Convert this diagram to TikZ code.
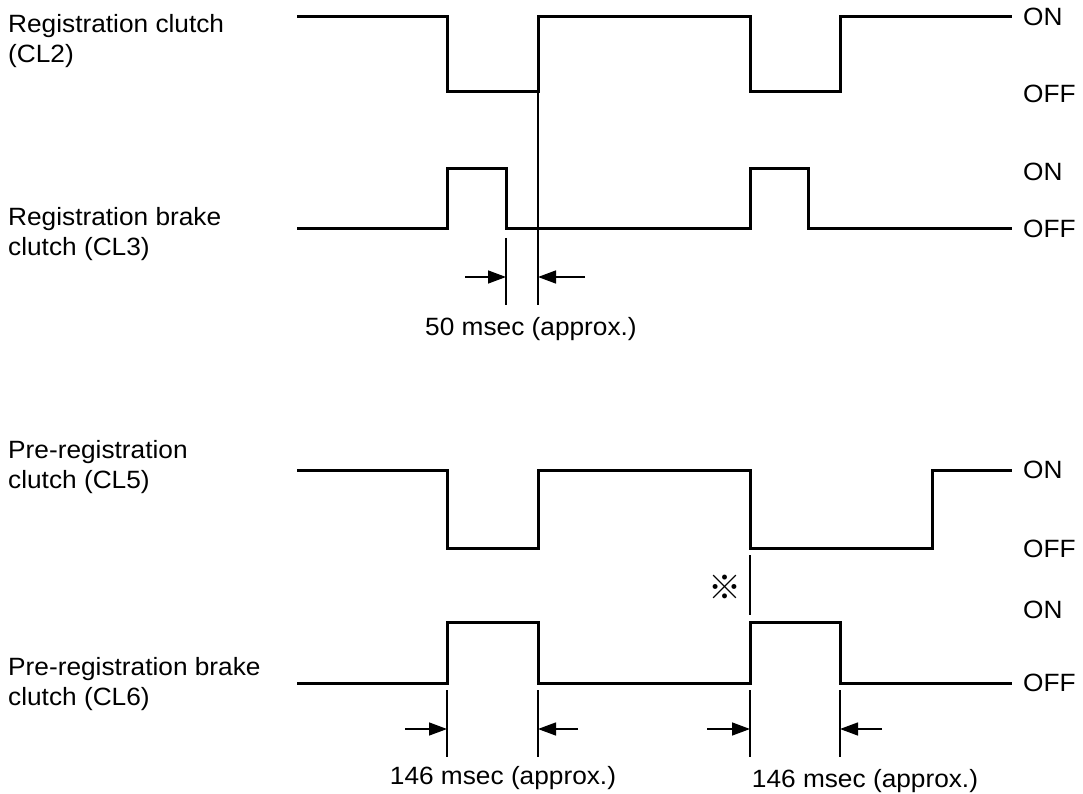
\documentclass[tikz,border=0pt]{standalone}
\usepackage{fontspec}
\setmainfont[FakeStretch=1.05]{Liberation Sans}
\newfontfamily\cjk{Noto Sans CJK JP}
\usetikzlibrary{arrows.meta}
\begin{document}
\begin{tikzpicture}[x=1pt,y=-1pt,
  sig/.style={line width=3pt,line join=miter},
  guide/.style={line width=1.4pt},
  dimarrow/.style={line width=1.4pt,-{Triangle[length=18pt,width=13pt]}},
  txt/.style={font=\fontsize{25}{30}\selectfont,inner sep=0pt},
  lbl/.style={txt,align=left,anchor=north west},
  state/.style={txt,anchor=west}]
\useasboundingbox (0,0) rectangle (1083,794);

% ---- signal names
\node[lbl] (n2) at (8,14) {Registration clutch\\(CL2)};
\node[lbl] (n3) at (8,207) {Registration brake\\clutch (CL3)};
\node[lbl] (n5) at (8,440) {Pre-registration\\clutch (CL5)};
\node[lbl] (n6) at (8,657) {Pre-registration brake\\clutch (CL6)};

% ---- state labels
\node[state] (on2)  at (1023,17)  {ON};
\node[state] (off2) at (1023,94)  {OFF};
\node[state] (on3)  at (1023,172) {ON};
\node[state] (off3) at (1023,229) {OFF};
\node[state] (on5)  at (1023,470) {ON};
\node[state] (off5) at (1023,549) {OFF};
\node[state] (on6)  at (1023,610) {ON};
\node[state] (off6) at (1023,683) {OFF};

% ---- waveforms
\draw[sig] (297,17) -- (447,17) -- (447,92) -- (538,92) -- (538,17) -- (750,17)
  -- (750,92) -- (840,92) -- (840,17) -- (1012,17);
\draw[sig] (297,229) -- (447,229) -- (447,169) -- (506,169) -- (506,229) -- (750,229)
  -- (750,169) -- (808,169) -- (808,229) -- (1012,229);
\draw[sig] (297,470) -- (447,470) -- (447,548) -- (538,548) -- (538,470) -- (750,470)
  -- (750,548) -- (932,548) -- (932,470) -- (1012,470);
\draw[sig] (297,683) -- (447,683) -- (447,622) -- (538,622) -- (538,683) -- (750,683)
  -- (750,622) -- (840,622) -- (840,683) -- (1012,683);

% ---- 50 msec dimension
\coordinate (a1) at (506,238); \coordinate (a2) at (506,305);
\coordinate (b1) at (538,92);  \coordinate (b2) at (538,305);
\draw[guide] (a1) -- (a2);
\draw[guide] (b1) -- (b2);
\coordinate (a3) at (465,277); \coordinate (a4) at (506,277);
\coordinate (b3) at (585,277); \coordinate (b4) at (538,277);
\draw[dimarrow] (a3) -- (a4);
\draw[dimarrow] (b3) -- (b4);
\node[txt,anchor=base] (t50) at (531,335) {50 msec (approx.)};

% ---- reference mark
\coordinate (m1) at (750,555); \coordinate (m2) at (750,615);
\draw[guide] (m1) -- (m2);
\node[inner sep=0pt,font=\cjk\fontsize{33}{33}\selectfont] (mark) at (725,587) {※};

% ---- 146 msec dimensions
\foreach \x/\n in {447/p,538/q,750/r,840/s}{
  \coordinate (\n1) at (\x,690); \coordinate (\n2) at (\x,757);
  \draw[guide] (\n1) -- (\n2);
}
\coordinate (pa) at (405,729); \coordinate (pb) at (447,729);
\coordinate (qa) at (578,729); \coordinate (qb) at (538,729);
\coordinate (ra) at (707,729); \coordinate (rb) at (750,729);
\coordinate (sa) at (882,729); \coordinate (sb) at (840,729);
\draw[dimarrow] (pa) -- (pb);
\draw[dimarrow] (qa) -- (qb);
\draw[dimarrow] (ra) -- (rb);
\draw[dimarrow] (sa) -- (sb);
\node[txt,anchor=base] (t146a) at (503,784) {146 msec (approx.)};
\node[txt,anchor=base] (t146b) at (865,787) {146 msec (approx.)};
\end{tikzpicture}
\end{document}
